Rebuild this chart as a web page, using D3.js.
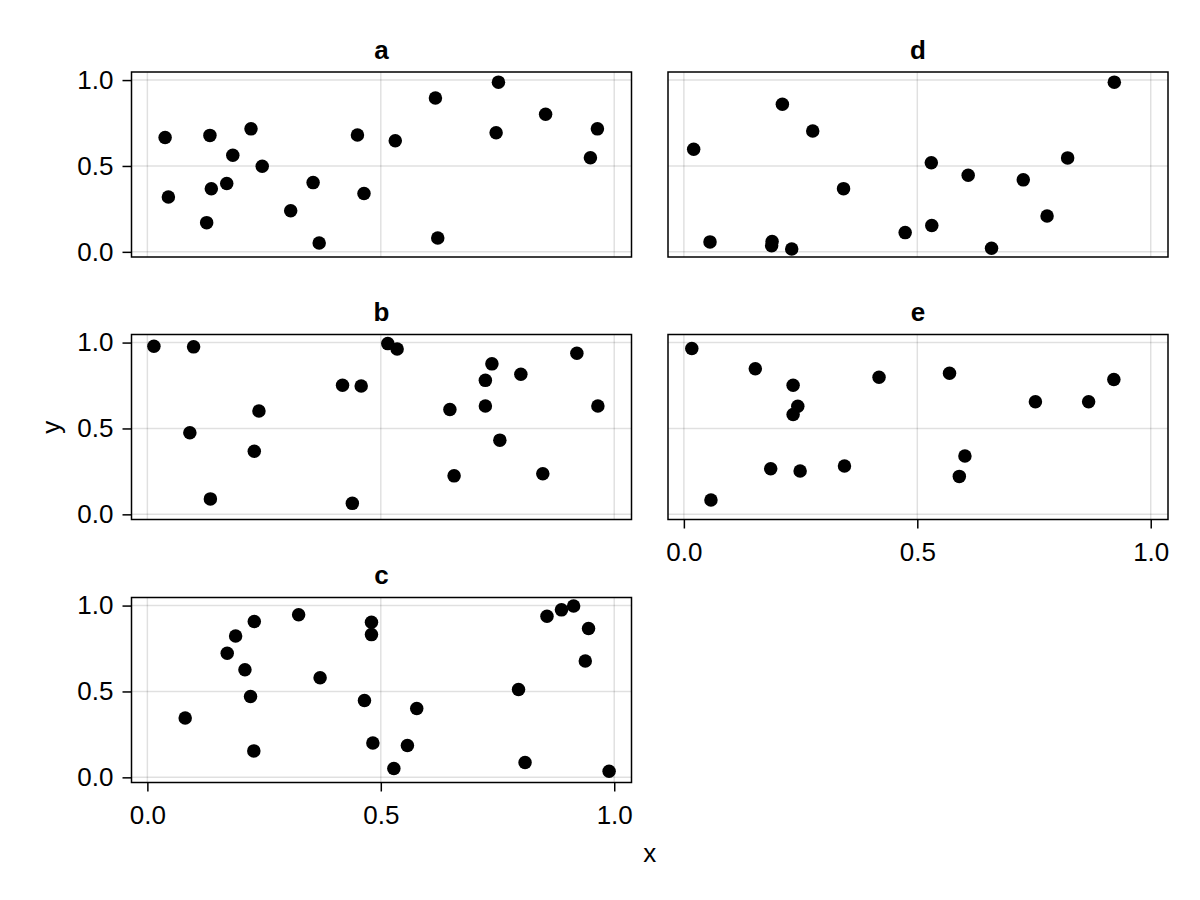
<!DOCTYPE html>
<html>
<head>
<meta charset="utf-8">
<script src="https://cdn.jsdelivr.net/npm/d3@7"></script>
<style>
  html, body { margin: 0; padding: 0; background: #fff; }
  svg { display: block; font-family: "Liberation Sans", Arial, sans-serif; }
</style>
</head>
<body>
<svg id="chart" width="1200" height="900"></svg>
<script>
// panel names, in layout order
const panelNames = ['a', 'b', 'c', 'd', 'e'];

// values
const aX = [0.038, 0.045, 0.127, 0.134, 0.137, 0.170, 0.183, 0.222, 0.246, 0.307, 0.355, 0.368, 0.450, 0.464, 0.531, 0.617, 0.622, 0.752, 0.747, 0.853, 0.949, 0.964];
const aY = [0.666, 0.319, 0.170, 0.678, 0.367, 0.398, 0.562, 0.716, 0.498, 0.239, 0.403, 0.052, 0.680, 0.340, 0.647, 0.896, 0.081, 0.988, 0.693, 0.801, 0.548, 0.716];

const bX = [0.014, 0.099, 0.091, 0.135, 0.239, 0.229, 0.418, 0.458, 0.439, 0.515, 0.535, 0.648, 0.657, 0.724, 0.724, 0.738, 0.755, 0.800, 0.847, 0.920, 0.965];
const bY = [0.979, 0.975, 0.475, 0.090, 0.602, 0.367, 0.751, 0.747, 0.064, 0.994, 0.963, 0.610, 0.224, 0.631, 0.780, 0.876, 0.432, 0.815, 0.236, 0.938, 0.631];

const cX = [0.081, 0.171, 0.189, 0.209, 0.221, 0.229, 0.228, 0.324, 0.370, 0.465, 0.480, 0.480, 0.483, 0.528, 0.557, 0.577, 0.795, 0.809, 0.856, 0.887, 0.913, 0.945, 0.938, 0.989];
const cY = [0.346, 0.722, 0.823, 0.626, 0.471, 0.907, 0.154, 0.946, 0.580, 0.447, 0.903, 0.831, 0.200, 0.051, 0.185, 0.401, 0.512, 0.086, 0.938, 0.975, 0.998, 0.866, 0.677, 0.035];

const dX = [0.021, 0.056, 0.189, 0.188, 0.231, 0.211, 0.276, 0.342, 0.474, 0.530, 0.531, 0.609, 0.659, 0.727, 0.778, 0.822, 0.922];
const dY = [0.597, 0.058, 0.060, 0.035, 0.017, 0.859, 0.703, 0.368, 0.112, 0.519, 0.153, 0.446, 0.021, 0.419, 0.209, 0.547, 0.988];

const eX = [0.017, 0.058, 0.153, 0.186, 0.234, 0.244, 0.234, 0.249, 0.344, 0.418, 0.569, 0.602, 0.590, 0.753, 0.867, 0.921];
const eY = [0.965, 0.083, 0.848, 0.265, 0.752, 0.629, 0.581, 0.252, 0.281, 0.798, 0.821, 0.340, 0.221, 0.656, 0.656, 0.785];

const tickValues = [0, 0.5, 1];
const xDomain = [-0.034, 1.037];
const yDomain = [-0.03, 1.047];

// layout
const colLeft = [131.5, 668];
const rowTop = [72, 334.5, 597.5];
const panelW = 500, panelH = 185;
const fontSize = 26;
const fontFamily = '"Liberation Sans", Arial, sans-serif';

const panels = [
  { name: 'a', col: 0, row: 0, xs: aX, ys: aY, xticks: false, yticks: true },
  { name: 'b', col: 0, row: 1, xs: bX, ys: bY, xticks: false, yticks: true },
  { name: 'c', col: 0, row: 2, xs: cX, ys: cY, xticks: true, yticks: true },
  { name: 'd', col: 1, row: 0, xs: dX, ys: dY, xticks: false, yticks: false },
  { name: 'e', col: 1, row: 1, xs: eX, ys: eY, xticks: true, yticks: false },
];

const svg = d3.select('#chart');
const fmt = d3.format('.1f');

function styleAxis(sel) {
  sel.select('.domain').remove();
  sel.selectAll('.tick line').attr('stroke', '#000').attr('stroke-width', 1.5);
  sel.selectAll('.tick text')
    .attr('font-size', fontSize)
    .attr('font-family', fontFamily)
    .attr('fill', '#000');
}

panels.forEach(p => {
  let left = colLeft[p.col], top = rowTop[p.row];
  let x = d3.scaleLinear().domain(xDomain).range([0, panelW]);
  let y = d3.scaleLinear().domain(yDomain).range([panelH, 0]);

  let g = svg.append('g')
    .attr('class', 'panel panel-' + p.name)
    .attr('transform', `translate(${left},${top})`);

  // grid
  g.append('g')
    .selectAll('line')
    .data(tickValues)
    .join('line')
    .attr('x1', d => x(d)).attr('x2', d => x(d))
    .attr('y1', 0).attr('y2', panelH)
    .attr('stroke', 'rgba(0,0,0,0.12)')
    .attr('stroke-width', 1.5);

  g.append('g')
    .selectAll('line')
    .data(tickValues)
    .join('line')
    .attr('y1', d => y(d)).attr('y2', d => y(d))
    .attr('x1', 0).attr('x2', panelW)
    .attr('stroke', 'rgba(0,0,0,0.12)')
    .attr('stroke-width', 1.5);

  // axes
  if (p.yticks) {
    g.append('g')
      .call(d3.axisLeft(y).tickValues(tickValues).tickFormat(fmt).tickSize(9).tickPadding(9))
      .call(styleAxis);
  }
  if (p.xticks) {
    g.append('g')
      .attr('transform', `translate(0,${panelH})`)
      .call(d3.axisBottom(x).tickValues(tickValues).tickFormat(fmt).tickSize(9).tickPadding(14.5))
      .call(styleAxis);
  }

  // points
  g.append('g')
    .selectAll('circle')
    .data(p.xs.map((v, i) => ({ x: v, y: p.ys[i] })))
    .join('circle')
    .attr('cx', d => x(d.x))
    .attr('cy', d => y(d.y))
    .attr('r', 6.75)
    .attr('fill', '#000');

  // frame
  g.append('rect')
    .attr('x', 0).attr('y', 0)
    .attr('width', panelW).attr('height', panelH)
    .attr('fill', 'none')
    .attr('stroke', '#000')
    .attr('stroke-width', 1.5);

  // title
  g.append('text')
    .attr('x', panelW / 2)
    .attr('y', -13.5)
    .attr('text-anchor', 'middle')
    .attr('font-size', fontSize)
    .attr('font-weight', 'bold')
    .text(p.name);
});

// axis labels
svg.append('text')
  .attr('x', (colLeft[0] + colLeft[1] + panelW) / 2)
  .attr('y', 862)
  .attr('text-anchor', 'middle')
  .attr('font-size', fontSize)
  .text('x');

svg.append('text')
  .attr('transform', `translate(60,${(rowTop[0] + rowTop[2] + panelH) / 2}) rotate(-90)`)
  .attr('text-anchor', 'middle')
  .attr('font-size', fontSize)
  .text('y');
</script>
</body>
</html>
